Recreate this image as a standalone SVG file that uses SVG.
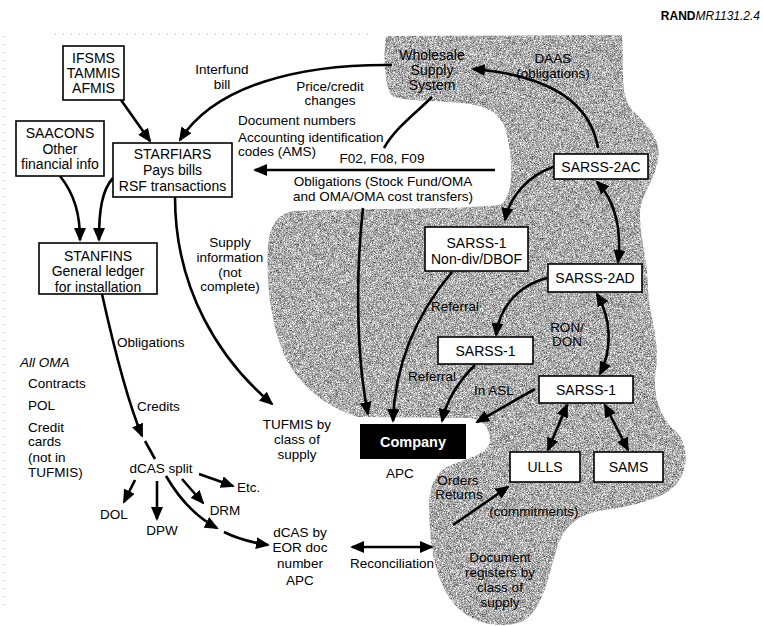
<svg xmlns="http://www.w3.org/2000/svg" width="763" height="626" viewBox="0 0 763 626">
<defs>
<style>
text{font-family:"Liberation Sans",Arial,sans-serif;font-size:13.5px;fill:#000}
.b{font-size:14px}
.c{text-anchor:middle}
.box{fill:#fff;stroke:#000;stroke-width:1.6}
.ln{fill:none;stroke:#000;stroke-width:2.6}
.a{marker-end:url(#ah)}
.d{marker-start:url(#ah);marker-end:url(#ah)}
</style>
<marker id="ah" markerUnits="userSpaceOnUse" markerWidth="14" markerHeight="12" refX="12" refY="6" orient="auto-start-reverse" viewBox="0 0 14 12">
<path d="M0,0 L14,6 L0,12 Z" fill="#000"/>
</marker>
<filter id="grain" x="0" y="0" width="100%" height="100%" color-interpolation-filters="sRGB">
<feTurbulence type="fractalNoise" baseFrequency="1.5" numOctaves="1" seed="5" result="t"/>
<feColorMatrix in="t" type="matrix" values="1.3 0 0 0 0.03  1.3 0 0 0 0.03  1.3 0 0 0 0.03  0 0 0 0 1" result="g"/>
<feComposite in="g" in2="SourceGraphic" operator="in"/>
</filter>
</defs>
<rect width="763" height="626" fill="#fff"/>
<g id="artifacts" stroke="#aaa" stroke-width="1" stroke-dasharray="1 7" fill="none">
<path d="M4,36 L4,612"/>
<path d="M55,34 L375,34"/>
</g>
<g id="region">
<path fill="#a8a8a8" filter="url(#grain)" d="M386,36 L622,35 C624,70 620,95 632,110 C648,125 662,140 658,160 C655,180 640,195 640,215 C640,240 648,260 648,290 C650,320 660,340 656,370 C652,395 660,415 672,428 C688,440 690,465 678,482 C665,500 630,506 605,510 C580,513 565,525 558,545 C548,575 545,605 525,620 C505,630 475,625 458,608 C440,590 432,560 430,530 C428,500 428,480 445,468 C465,458 490,455 490,440 C490,425 480,418 465,418 L358,417 C320,405 295,380 283,352 C270,320 266,280 268,245 C270,225 278,213 295,211 C360,208 450,210 500,205 C515,195 512,160 508,140 C505,120 495,108 470,104 C440,100 405,102 392,96 C384,85 383,55 386,36 Z"/>
</g>
<text x="760" y="20" style="font-size:12px;text-anchor:end"><tspan style="font-weight:bold">RAND</tspan><tspan style="font-style:italic">MR1131.2.4</tspan></text>
<g id="connectors">
<path class="ln a" d="M121,100 L150,141"/>
<path class="ln a" d="M392,65 C300,64 215,85 180,140"/>
<path class="ln a" d="M60,176 C75,195 80,215 80,240"/>
<path class="ln a" d="M113,178 C102,190 99,210 99,240"/>
<path class="ln a" d="M175,197 C175,290 220,360 272,404"/>
<path class="ln a" d="M102,294 C110,330 125,395 142,436"/>
<path class="ln" d="M145,441 L155,459"/>
<path class="ln a" d="M135,480 L124,502"/>
<path class="ln a" d="M157,481 L157,519"/>
<path class="ln a" d="M182,479 L203,503"/>
<path class="ln a" d="M199,474 L233,486"/>
<path class="ln a" d="M166,476 C180,500 198,518 217,528"/>
<path class="ln a" d="M224,532 C240,540 255,543 268,545"/>
<path class="ln d" d="M352,547 L432,547"/>
<path class="ln a" d="M453,525 L508,487"/>
<path class="ln" d="M432,97 C416,113 395,128 384,148"/>
<path class="ln a" d="M495,170 L255,170"/>
<path class="ln a" d="M363,208 C355,280 357,360 368,414"/>
<path class="ln a" d="M598,148 C590,100 545,75 473,69"/>
<path class="ln a" d="M553,167 C530,175 510,195 505,220"/>
<path class="ln d" d="M597,182 C615,200 622,230 618,262"/>
<path class="ln a" d="M547,278 C520,285 500,305 496,335"/>
<path class="ln d" d="M597,294 C612,320 612,350 600,374"/>
<path class="ln a" d="M452,272 C420,310 395,360 393,421"/>
<path class="ln a" d="M475,365 C460,380 447,398 442,421"/>
<path class="ln a" d="M535,389 L477,422"/>
<path class="ln d" d="M567,405 L548,450"/>
<path class="ln d" d="M605,405 L628,450"/>
</g>
<g id="ifsms"><rect class="box" x="63" y="46" width="61" height="54"/>
<text class="b c" x="93.5" y="63">IFSMS</text><text class="b c" x="93.5" y="78">TAMMIS</text><text class="b c" x="93.5" y="93">AFMIS</text></g>
<g id="saacons"><rect class="box" x="16" y="121" width="88" height="55"/>
<text class="b c" x="60" y="138">SAACONS</text><text class="b c" x="60" y="154">Other</text><text class="b c" x="60" y="169">financial info</text></g>
<g id="starfiars"><rect class="box" x="113" y="143" width="119" height="54"/>
<text class="b c" x="172.5" y="159">STARFIARS</text><text class="b c" x="172.5" y="175">Pays bills</text><text class="b c" x="172.5" y="191">RSF transactions</text></g>
<g id="stanfins"><rect class="box" x="39" y="243" width="118" height="51"/>
<text class="b c" x="98" y="261">STANFINS</text><text class="b c" x="98" y="276">General ledger</text><text class="b c" x="98" y="292">for installation</text></g>
<g id="wholesale"><text class="b c" x="432" y="60">Wholesale</text><text class="b c" x="432" y="75">Supply</text><text class="b c" x="432" y="90">System</text></g>
<g id="sarss2ac"><rect class="box" x="554" y="154" width="94" height="25"/><text class="b c" x="601" y="171.5">SARSS-2AC</text></g>
<g id="sarss1nd"><rect class="box" x="425" y="227" width="103" height="44"/>
<text class="b c" x="476.5" y="247.5">SARSS-1</text><text class="b c" x="476.5" y="264">Non-div/DBOF</text></g>
<g id="sarss2ad"><rect class="box" x="548" y="264" width="94" height="28"/><text class="b c" x="595" y="283">SARSS-2AD</text></g>
<g id="sarss1m"><rect class="box" x="438" y="337" width="95" height="27"/><text class="b c" x="485.5" y="355.5">SARSS-1</text></g>
<g id="sarss1r"><rect class="box" x="539" y="376" width="94" height="27"/><text class="b c" x="586" y="394.5">SARSS-1</text></g>
<g id="company"><rect x="360" y="424" width="106" height="35" fill="#000"/><text class="c" x="413" y="447" style="fill:#fff;font-weight:bold;font-size:14.5px">Company</text></g>
<g id="ulls"><rect class="box" x="510" y="452" width="70" height="30"/><text class="b c" x="545" y="472">ULLS</text></g>
<g id="sams"><rect class="box" x="594" y="452" width="69" height="30"/><text class="b c" x="628.5" y="472">SAMS</text></g>
<g id="tufmis"><text class="c" x="297" y="429">TUFMIS by</text><text class="c" x="297" y="444">class of</text><text class="c" x="297" y="459">supply</text></g>
<g id="dcassplit"><text class="c" x="161" y="473">dCAS split</text></g>
<g id="dcaseor"><text class="c" x="300" y="537">dCAS by</text><text class="c" x="300" y="552">EOR doc</text><text class="c" x="300" y="568">number</text><text class="c" x="300" y="585">APC</text></g>
<g id="docreg"><text class="c" x="500" y="562">Document</text><text class="c" x="500" y="577">registers by</text><text class="c" x="500" y="592">class of</text><text class="c" x="500" y="607">supply</text></g>
<g id="labels">
<text class="c" x="222" y="74">Interfund</text><text class="c" x="222" y="89">bill</text>
<text class="c" x="330" y="91">Price/credit</text><text class="c" x="330" y="105">changes</text>
<text x="238" y="124.5">Document numbers</text><text x="238" y="141.5">Accounting identification</text><text x="238" y="156">codes (AMS)</text>
<text class="c" x="382" y="163">F02, F08, F09</text>
<text class="c" x="383" y="186">Obligations (Stock Fund/OMA</text><text class="c" x="383" y="201">and OMA/OMA cost transfers)</text>
<text class="c" x="553" y="63">DAAS</text><text class="c" x="553" y="78">(obligations)</text>
<text class="c" x="230" y="247">Supply</text><text class="c" x="230" y="262">information</text><text class="c" x="230" y="277">(not</text><text class="c" x="230" y="291">complete)</text>
<text x="117" y="347">Obligations</text>
<text x="137" y="411">Credits</text>
<text x="20" y="367" style="font-style:italic">All OMA</text>
<text x="28" y="388">Contracts</text>
<text x="28" y="410">POL</text>
<text x="28" y="432">Credit</text><text x="28" y="446">cards</text><text x="28" y="462">(not in</text><text x="28" y="477">TUFMIS)</text>
<text x="237" y="492">Etc.</text>
<text class="c" x="114" y="519">DOL</text>
<text class="c" x="162" y="535">DPW</text>
<text class="c" x="225" y="515">DRM</text>
<text class="c" x="400" y="478">APC</text>
<text class="c" x="392" y="568">Reconciliation</text>
<text class="c" x="458" y="485">Orders</text><text class="c" x="459" y="499">Returns</text>
<text class="c" x="534" y="516">(commitments)</text>
<text class="c" x="455" y="311">Referral</text>
<text class="c" x="432" y="381">Referral</text>
<text class="c" x="494" y="395">In ASL</text>
<text class="c" x="567" y="332">RON/</text><text class="c" x="567" y="346">DON</text>
</g>
</svg>
